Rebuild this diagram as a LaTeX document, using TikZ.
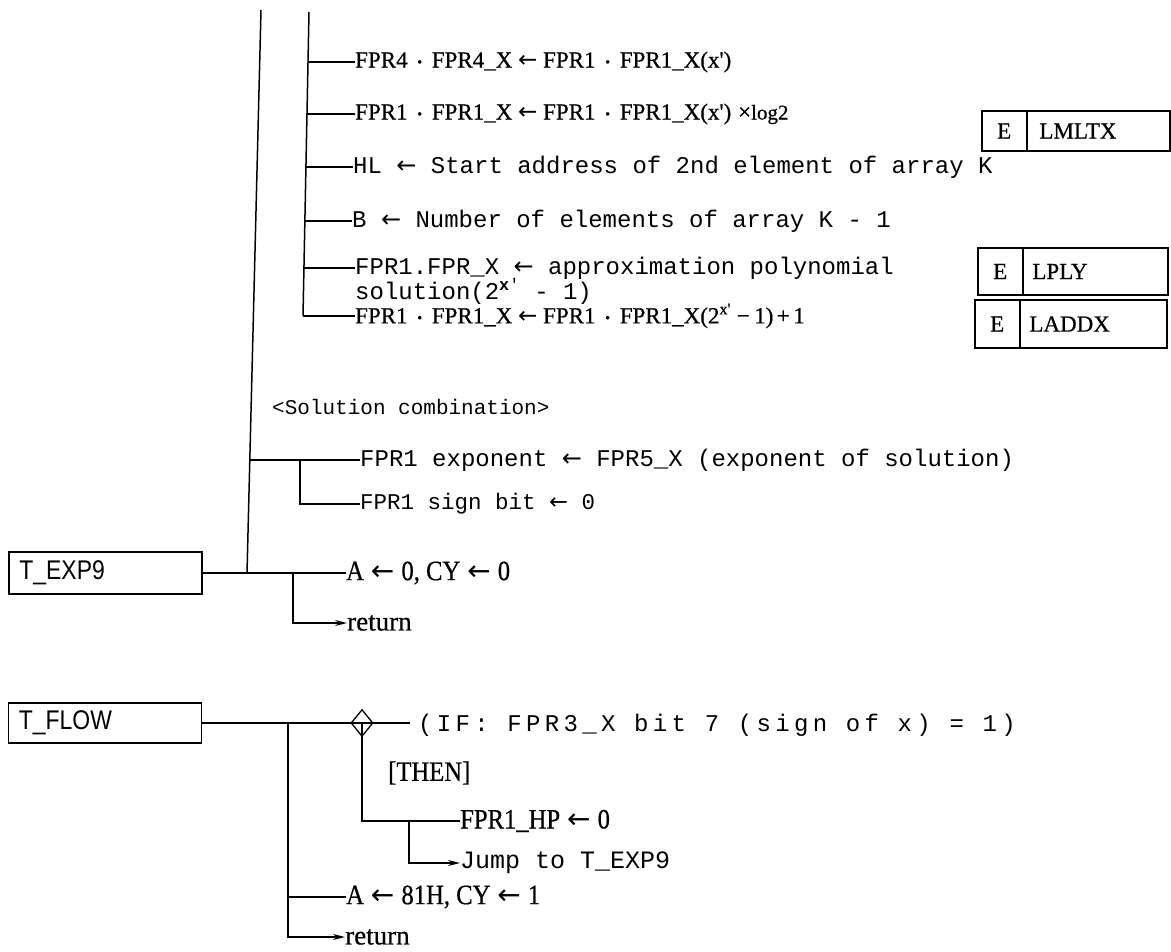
\documentclass[tikz,border=0pt]{standalone}
\usepackage{fontspec}
\setmainfont{Liberation Serif}
\newfontfamily\serf[FakeBold=0.6]{Liberation Serif}
\newfontfamily\monof{Liberation Mono}
\newfontfamily\monoif[LetterSpace=18]{Liberation Mono}
\newfontfamily\arrf{DejaVu Sans}
\newfontfamily\condser[FakeStretch=0.88,FakeBold=0.6]{Liberation Serif}
\newfontfamily\condsans[FakeStretch=0.85]{Liberation Sans}
\usetikzlibrary{arrows.meta,shapes.geometric}
\newcommand\pd{\hspace{0.42em}{\fontsize{14}{14}\selectfont\raisebox{1pt}{•}}\hspace{0.42em}}
\newcommand\la{\hspace{0.25em}{\arrf ←}\hspace{0.25em}}
\newcommand\lm{{\arrf ←}}
\tikzset{
  ln/.style={line width=1.5pt, black},
  arr/.style={line width=1.5pt, black, -{Stealth[length=12pt,width=6pt]}},
  ser/.style={anchor=west, inner sep=0pt, font=\serf\fontsize{23}{26}\selectfont},
  mon/.style={anchor=west, inner sep=0pt, font=\monof\fontsize{24}{26}\selectfont},
  cnd/.style={anchor=west, inner sep=0pt, font=\condser\fontsize{28}{30}\selectfont},
  rtn/.style={anchor=west, inner sep=0pt, font=\serf\fontsize{27}{30}\selectfont},
  lbl/.style={anchor=west, inner sep=0pt, font=\condsans\fontsize{27}{28}\selectfont},
  lbox/.style={draw, line width=1.6pt, minimum width=193pt, minimum height=42pt, inner sep=0pt},
  ebox/.style={draw, line width=1.6pt, inner sep=0pt},
  etxt/.style={inner sep=0pt, font=\serf\fontsize{23}{26}\selectfont},
  dia/.style={draw, diamond, line width=1.3pt, minimum width=22pt, minimum height=27pt, inner sep=0pt}
}
\begin{document}
\begin{tikzpicture}[x=1pt,y=-1pt]
\useasboundingbox (0,0) rectangle (1171,952);
% ---------- inner tree ----------
\coordinate (it) at (309,12);
\coordinate (i1) at (308,62);
\coordinate (i2) at (307,114);
\coordinate (i3) at (306,167);
\coordinate (i4) at (305,221);
\coordinate (i5) at (304,268);
\coordinate (ib) at (303,316);
\draw[ln] (it) -- (ib);
\node[ser] (r1) at (355,62) {FPR4\pd FPR4\_X\la FPR1\pd FPR1\_X(x')};
\node[ser] (r2) at (355,114) {FPR1\pd FPR1\_X\la FPR1\pd FPR1\_X(x')\hspace{0.3em}×{\fontsize{21}{22}\selectfont log2}};
\node[mon] (r3) at (353,167) {HL \lm{} Start address of 2nd element of array K};
\node[mon] (r4) at (352,221) {B \lm{} Number of elements of array K - 1};
\node[mon] (r5) at (355,268) {FPR1.FPR\_X \lm{} approximation polynomial};
\node[mon] (r5b) at (355,291) {solution(2\textsuperscript{\textbf{x}'} - 1)};
\node[ser] (r6) at (355,316) {FPR1\pd FPR1\_X\la FPR1\pd FPR1\_X(2\textsuperscript{x'}\hspace{0.25em}−\hspace{0.2em}1)\hspace{0.15em}+\hspace{0.15em}1};
\draw[ln] (i1) -- (r1.west);
\draw[ln] (i2) -- (r2.west);
\draw[ln] (i3) -- (r3.west);
\draw[ln] (i4) -- (r4.west);
\draw[ln] (i5) -- (r5.west);
\draw[ln] (ib) -- (r6.west);
% ---------- E boxes ----------
\node[ebox, minimum width=188pt, minimum height=40pt] (b1) at (1076,131) {};
\draw[ln] ([xshift=46pt]b1.north west) coordinate (b1d) -- (b1d |- b1.south);
\node[etxt] (b1e) at ([xshift=23pt]b1.west) {E};
\node[etxt, anchor=west] (b1n) at ([xshift=58pt]b1.west) {LMLTX};
\node[ebox, minimum width=190pt, minimum height=47pt] (b2) at (1073,271.5) {};
\draw[ln] ([xshift=46pt]b2.north west) coordinate (b2d) -- (b2d |- b2.south);
\node[etxt] (b2e) at ([xshift=23pt]b2.west) {E};
\node[etxt, anchor=west] (b2n) at ([xshift=55pt]b2.west) {LPLY};
\node[ebox, minimum width=192pt, minimum height=48pt] (b3) at (1071,324) {};
\draw[ln] ([xshift=46pt]b3.north west) coordinate (b3d) -- (b3d |- b3.south);
\node[etxt] (b3e) at ([xshift=23pt]b3.west) {E};
\node[etxt, anchor=west] (b3n) at ([xshift=55pt]b3.west) {LADDX};
% ---------- outer tree ----------
\coordinate (ot) at (261,10);
\coordinate (o1) at (250,460);
\coordinate (oj) at (247,573);
\draw[ln] (ot) -- (oj);
\node[mon, font=\monof\fontsize{21}{24}\selectfont] (sc) at (272,407) {<Solution combination>};
\coordinate (s1) at (300,460);
\coordinate (s2) at (300,504);
\node[mon] (e1) at (360,460) {FPR1 exponent \lm{} FPR5\_X (exponent of solution)};
\node[mon, font=\monof\fontsize{22.5}{24}\selectfont] (e2) at (360,504) {FPR1 sign bit \lm{} 0};
\draw[ln] (o1) -- (e1.west);
\draw[ln] (s1) -- (s2) -- (e2.west);
% T_EXP9
\node[lbox] (exp9) at (105.5,573) {};
\node[lbl] (exp9t) at ([xshift=11pt]exp9.west) {T\_EXP9};
\node[cnd] (a0) at (346,573) {A\la 0, CY\la 0};
\coordinate (j9) at (293,573);
\coordinate (j9b) at (293,623);
\node[rtn] (ret1) at (347,623) {return};
\draw[ln] (exp9.east) -- (a0.west);
\draw[arr] (j9) -- (j9b) -- (ret1.west);
% T_FLOW
\node[lbox, minimum height=40pt] (flow) at (105,723) {};
\node[lbl] (flowt) at ([xshift=11pt]flow.west) {T\_FLOW};
\node[dia] (d) at (362,723) {};
\coordinate (dend) at (410,723);
\node[mon, font=\monoif\fontsize{24}{24}\selectfont] (ifc) at (418,725) {(IF: FPR3\_X bit 7 (sign of x) = 1)};
\draw[ln] (flow.east) -- (dend);
\node[cnd] (then) at (388,773) {[THEN]};
\coordinate (dj) at (362,821);
\node[cnd] (hp) at (460,821) {FPR1\_HP\la 0};
\draw[ln] (d.center) -- (dj) -- (hp.west);
\coordinate (sj) at (409,821);
\coordinate (sjb) at (409,863);
\node[mon, font=\monof\fontsize{25}{26}\selectfont] (jmp) at (460,863) {Jump to T\_EXP9};
\draw[arr] (sj) -- (sjb) -- (jmp.west);
\coordinate (fj) at (288,723);
\coordinate (fa) at (288,897);
\coordinate (fb) at (288,937);
\node[cnd] (a81) at (346,897) {A\la 81H, CY\la 1};
\node[rtn] (ret2) at (345,937) {return};
\draw[ln] (fa) -- (a81.west);
\draw[arr] (fj) -- (fb) -- (ret2.west);
\end{tikzpicture}
\end{document}
